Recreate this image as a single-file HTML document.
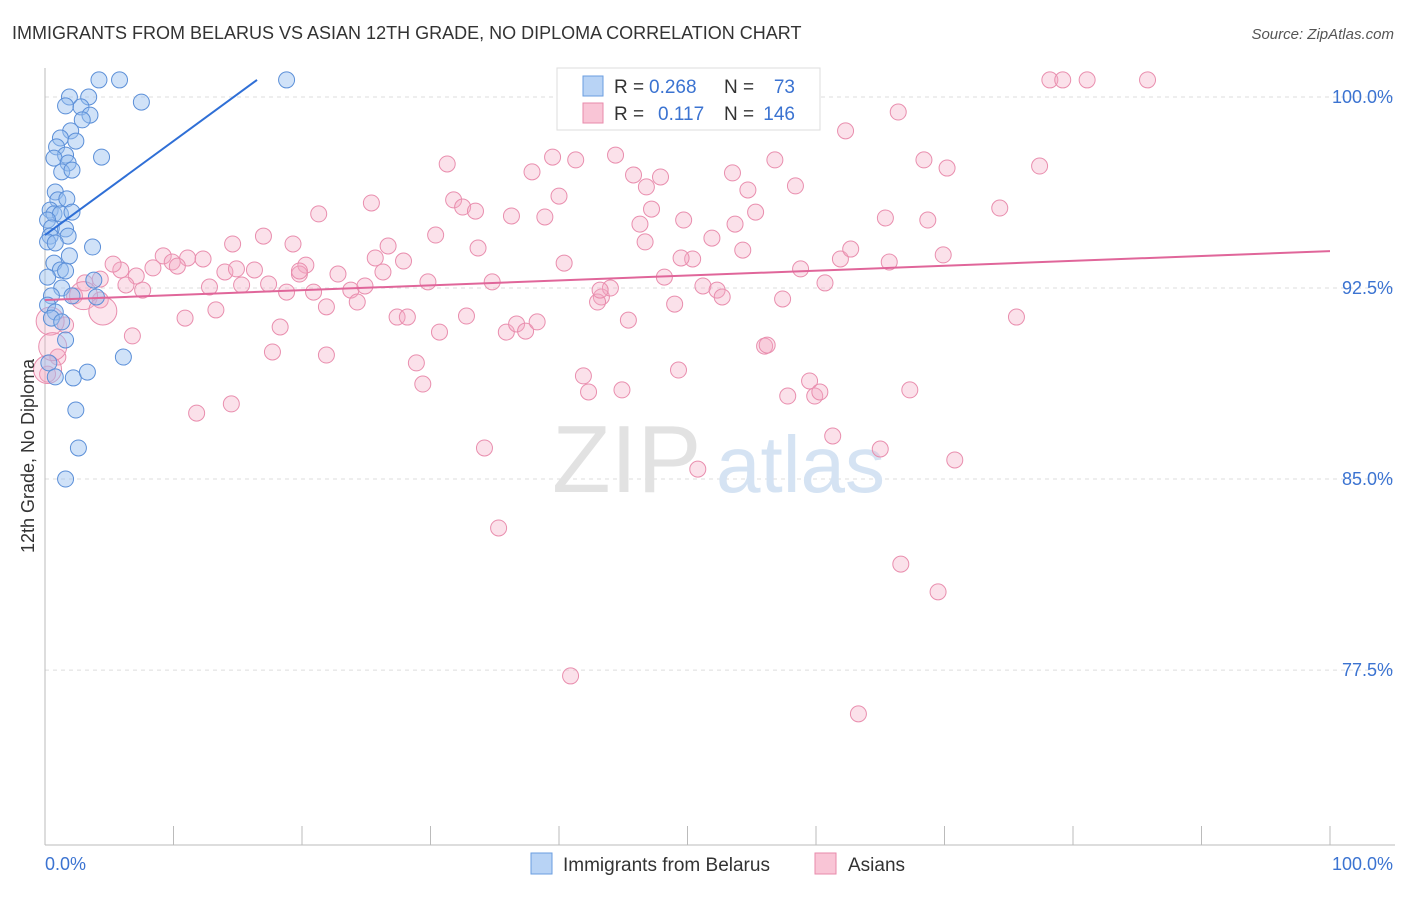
<!DOCTYPE html>
<html><head><meta charset="utf-8"><style>
body{margin:0;background:#fff;font-family:"Liberation Sans",sans-serif;}
svg text{font-family:"Liberation Sans",sans-serif;}
</style></head><body>
<svg id="chart" width="1406" height="892" xmlns="http://www.w3.org/2000/svg">
<text x="12" y="39" font-size="18" fill="#333">IMMIGRANTS FROM BELARUS VS ASIAN 12TH GRADE, NO DIPLOMA CORRELATION CHART</text>
<text x="1394" y="39" font-size="15" fill="#555" text-anchor="end" font-style="italic">Source: ZipAtlas.com</text>
<g id="grid"></g>
<g><text x="552" y="492" font-size="96" font-family="Liberation Serif" fill="#e2e2e2">ZIP</text><text x="716" y="492" font-size="80" fill="#d5e3f3">atlas</text></g>
<g id="pts"></g>
<g id="lines"></g>
<text transform="translate(34,456) rotate(-90)" font-size="18" fill="#333" text-anchor="middle">12th Grade, No Diploma</text>
<g>
<rect x="557" y="68" width="263" height="62" fill="#fff" stroke="#ddd"/>
<rect x="583" y="76" width="20" height="20" fill="#b8d3f5" stroke="#6a9ee0"/>
<rect x="583" y="103" width="20" height="20" fill="#f9c5d6" stroke="#e88aab"/>
<text x="614" y="93" font-size="19" fill="#333">R =</text>
<text x="649" y="93" font-size="19" fill="#3b73d1">0.268</text>
<text x="724" y="93" font-size="19" fill="#333">N =</text>
<text x="795" y="93" font-size="19" fill="#3b73d1" text-anchor="end">73</text>
<text x="614" y="120" font-size="19" fill="#333">R =</text>
<text x="658" y="120" font-size="19" fill="#3b73d1">0.117</text>
<text x="724" y="120" font-size="19" fill="#333">N =</text>
<text x="795" y="120" font-size="19" fill="#3b73d1" text-anchor="end">146</text>
</g>
<g>
<rect x="531" y="853" width="21" height="21" fill="#b8d3f5" stroke="#6a9ee0"/>
<text x="563" y="871" font-size="19" fill="#333">Immigrants from Belarus</text>
<rect x="815" y="853" width="21" height="21" fill="#f9c5d6" stroke="#e88aab"/>
<text x="848" y="871" font-size="19" fill="#333">Asians</text>
</g>
</svg>
<script>
const yTicks=[100,92.5,85,77.5];
const yTickLabels=["100.0%","92.5%","85.0%","77.5%"];
const xTickLabels=["0.0%","100.0%"];
const blueX=[4.2,5.8,18.8,1.9,3.4,1.6,2.8,7.5,3.5,2.9,2.0,1.2,2.4,0.9,1.6,0.7,4.4,1.8,1.3,2.1,0.8,1.0,1.7,0.4,0.7,1.2,2.1,0.2,0.5,1.6,0.4,1.8,0.2,0.8,3.7,1.9,0.7,1.2,1.6,0.2,3.8,1.3,0.5,2.1,4.0,0.2,0.8,0.5,1.3,1.6,6.1,0.3,0.8,2.2,3.3,2.4,2.6,1.6];
const blueY=[100.67,100.67,100.67,100,100,99.65,99.61,99.8,99.29,99.1,98.67,98.39,98.27,98.04,97.72,97.6,97.64,97.41,97.06,97.13,96.27,95.96,96.0,95.56,95.41,95.41,95.48,95.17,94.86,94.82,94.54,94.54,94.31,94.27,94.11,93.76,93.48,93.21,93.17,92.93,92.81,92.5,92.19,92.19,92.15,91.83,91.56,91.32,91.17,90.46,89.79,89.56,89.01,88.97,89.2,87.71,86.22,85.0];
const pinkX=[78.2,79.2,81.1,85.8,66.4,58.4,62.3,31.3,37.9,39.5,41.3,44.4,45.8,46.8,47.9,53.5,54.7,56.8,58.4,68.4,70.2,77.4,25.4,31.8,32.5,33.5,36.3,38.9,40.0,46.3,47.2,49.7,51.9,53.7,55.3,65.4,68.7,74.3,21.3,17.0,19.3,26.7,27.9,30.4,33.7,25.7,20.3,19.8,22.8,23.8,24.9,26.3,29.8,34.8,40.4,48.2,50.4,54.3,58.8,61.9,62.7,65.7,69.9,51.2,52.3,52.7,57.4,60.7,9.2,9.9,11.1,10.3,12.3,8.4,5.9,7.1,5.3,4.3,7.6,6.3,3.1,2.3,4.3,12.8,14.0,14.9,15.3,16.3,17.4,18.8,20.9,21.9,24.3,21.9,18.3,17.7,10.9,13.3,6.8,1.6,1.0,0.2,11.8,14.5,27.4,28.2,30.7,32.8,35.9,36.7,37.4,38.3,43.3,44.0,43.0,45.4,49.0,28.9,29.4,41.9,42.3,44.9,49.3,56.0,59.5,57.8,59.9,60.3,67.3,61.3,65.0,70.8,50.8,34.2,35.3,66.6,69.5,40.9,63.3,75.6,56.2,43.2,46.7,49.5,14.6,19.8];
const pinkY=[100.67,100.67,100.67,100.67,99.41,99.21,98.67,97.37,97.06,97.64,97.53,97.72,96.94,96.47,96.86,97.02,96.35,97.53,96.51,97.53,97.21,97.29,95.84,95.96,95.68,95.52,95.33,95.29,96.11,95.01,95.6,95.17,94.46,95.01,95.48,95.25,95.17,95.64,95.41,94.54,94.23,94.15,93.56,94.58,94.07,93.68,93.4,93.05,93.05,92.42,92.58,93.13,92.74,92.74,93.48,92.93,93.64,93.99,93.25,93.64,94.03,93.52,93.8,92.58,92.42,92.15,92.07,92.7,93.76,93.52,93.68,93.36,93.64,93.29,93.21,92.97,93.44,92.85,92.42,92.62,92.7,92.19,92.03,92.54,93.13,93.25,92.62,93.21,92.66,92.34,92.34,91.76,91.95,89.87,90.97,89.99,91.32,91.64,90.62,91.05,89.79,89.12,87.59,87.95,91.36,91.36,90.77,91.4,90.77,91.09,90.81,91.17,92.15,92.5,91.95,91.24,91.87,89.56,88.73,89.05,88.42,88.5,89.28,90.22,88.85,88.26,88.26,88.42,88.5,86.69,86.18,85.75,85.39,86.22,83.08,81.66,80.57,77.27,75.78,91.36,90.26,92.42,94.31,93.68,94.23,93.17];
const bigPinkX=[0.2,0.4,0.6,3.0,4.5];
const bigPinkY=[89.3,91.2,90.2,92.2,91.6];
const blueLine=[[0,94.58],[16.5,100.67]];
const pinkLine=[[0,92.03],[100,93.95]];
const X=v=>45+v*12.85, Y=v=>97+(100-v)*25.47;
const NS="http://www.w3.org/2000/svg";
function mk(tag,attrs,parent){const e=document.createElementNS(NS,tag);for(const k in attrs)e.setAttribute(k,attrs[k]);parent.appendChild(e);return e;}
const grid=document.getElementById('grid');
yTicks.forEach((t,i)=>{
 const l=mk('line',{x1:45,x2:1395,y1:Y(t),y2:Y(t),stroke:'#ddd','stroke-dasharray':'4,4'},grid);
 
 
 const tx=mk('text',{x:1393,y:Y(t)+6,'font-size':18,fill:'#3b73d1','text-anchor':'end'},grid);
 tx.textContent=yTickLabels[i];
 
 
});
const ax=mk('line',{x1:45,x2:45,y1:68,y2:845,stroke:'#bbb'},grid);


const bx=mk('line',{x1:45,x2:1395,y1:845,y2:845,stroke:'#bbb'},grid);


for(let i=0;i<=10;i++){const t=mk('line',{x1:X(i*10),x2:X(i*10),y1:826,y2:845,stroke:'#bbb'},grid);
 
 }
[[0,'start',45],[1,'end',1393]].forEach(([i,a,x])=>{const t=mk('text',{x:x,y:870,'font-size':18,fill:'#3b73d1','text-anchor':a},grid);t.textContent=xTickLabels[i];
 
 });
const pts=document.getElementById('pts');
pinkX.forEach((x,i)=>{const c=mk('circle',{cx:X(x),cy:Y(pinkY[i]),r:8,fill:'rgba(244,170,196,0.35)',stroke:'#e98eae','stroke-width':1},pts);
 
 });
bigPinkX.forEach((x,i)=>{const c=mk('circle',{cx:X(x),cy:Y(bigPinkY[i]),r:14,fill:'rgba(244,170,196,0.3)',stroke:'#e98eae','stroke-width':1},pts);
 
 });
blueX.forEach((x,i)=>{const c=mk('circle',{cx:X(x),cy:Y(blueY[i]),r:8,fill:'rgba(150,190,240,0.45)',stroke:'#5b8fd8','stroke-width':1},pts);
 
 });
const lines=document.getElementById('lines');
const bl=mk('line',{x1:X(blueLine[0][0]),y1:Y(blueLine[0][1]),x2:X(blueLine[1][0]),y2:Y(blueLine[1][1]),stroke:'#2f6fd6','stroke-width':2},lines);


const pl=mk('line',{x1:X(pinkLine[0][0]),y1:Y(pinkLine[0][1]),x2:X(pinkLine[1][0]),y2:Y(pinkLine[1][1]),stroke:'#e0669a','stroke-width':2},lines);


</script>
</body></html>
